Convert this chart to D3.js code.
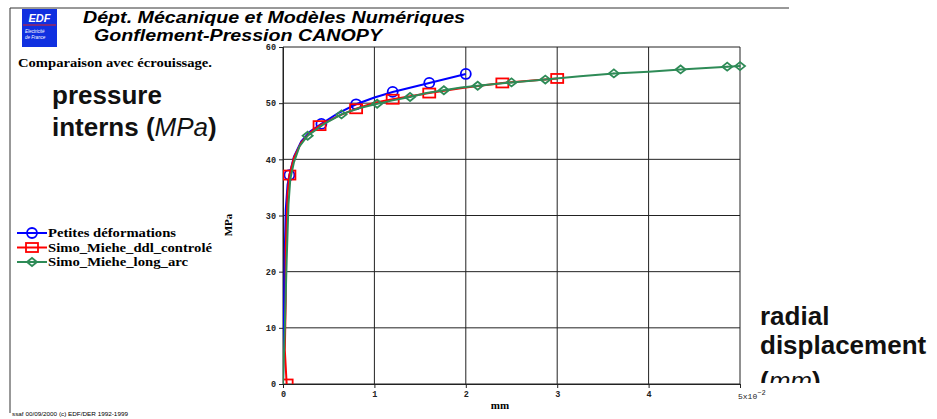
<!DOCTYPE html>
<html>
<head>
<meta charset="utf-8">
<script src="https://cdn.jsdelivr.net/npm/d3@7"></script>
<style>
  body { margin: 0; background: #fff; }
  svg { display: block; }
</style>
</head>
<body>
<div id="chart"></div>
<script>
// displacement (x 1e-2 mm) / pressure (MPa)
var blueX = [0, 0.01, 0.02, 0.03, 0.05, 0.07, 0.12, 0.2, 0.3, 0.42, 0.6, 0.8, 1.0, 1.2, 1.6, 2.0];
var blueY = [0, 12, 24, 31, 35.5, 37.2, 40.5, 43.2, 45, 46.3, 48.2, 49.8, 51, 52, 53.6, 55.2];
var blueMarks = [5, 9, 11, 13, 14, 15];

var redX = [0.04, 0.02, 0.03, 0.03, 0.04, 0.05, 0.07, 0.12, 0.2, 0.3, 0.4, 0.6, 0.8, 1.0, 1.2, 1.6, 2.0, 2.4, 3.0];
var redY = [0, 6, 15, 24, 29, 34, 37.2, 40.3, 43, 44.8, 46, 47.7, 49, 50.1, 50.7, 51.8, 52.8, 53.6, 54.4];
var redMarks = [0, 6, 10, 12, 14, 15, 17, 18];

var greenX = [0, 0.02, 0.04, 0.06, 0.08, 0.12, 0.18, 0.27, 0.45, 0.64, 0.83, 1.03, 1.2, 1.39, 1.57, 1.76, 1.95, 2.13, 2.5, 2.87, 3.25, 3.62, 4.0, 4.35, 4.86, 5.0];
var greenY = [0, 10, 22, 32, 36.5, 39.5, 42.3, 44.2, 46.3, 48.0, 49.1, 49.9, 50.5, 51.1, 51.8, 52.3, 52.8, 53.1, 53.7, 54.2, 54.8, 55.3, 55.6, 56.0, 56.5, 56.6];
var greenMarks = [7, 9, 11, 13, 15, 17, 18, 19, 21, 23, 24, 25];

var seriesNames = ["Petites déformations", "Simo_Miehe_ddl_controlé", "Simo_Miehe_long_arc"];
var seriesColors = ["#0000ff", "#ff0000", "#2e8b57"];
var seriesShapes = ["circle", "square", "diamond"];
var legendWidths = [128, 164, 140];

var xTicks = [0, 1, 2, 3, 4, 5];
var yTicks = [0, 10, 20, 30, 40, 50, 60];

var W = 937, H = 419;
var plot = {left: 283, right: 740, top: 47, bottom: 384};

var svg = d3.select("#chart").append("svg")
    .attr("width", W)
    .attr("height", H);

// page frame
svg.append("line").attr("x1", 10).attr("x2", 789).attr("y1", 8).attr("y2", 8)
    .attr("stroke", "#333").attr("stroke-width", 1);
svg.append("line").attr("x1", 10).attr("x2", 10).attr("y1", 8).attr("y2", 413)
    .attr("stroke", "#333").attr("stroke-width", 1);

// logo
var logo = svg.append("g");
logo.append("rect").attr("x", 22).attr("y", 9).attr("width", 35).attr("height", 38).attr("fill", "#1030e0");
logo.append("text").attr("x", 39.5).attr("y", 22).attr("text-anchor", "middle")
    .attr("font-family", "Liberation Sans").attr("font-weight", "bold").attr("font-style", "italic")
    .attr("font-size", 11).attr("fill", "#fff").text("EDF");
logo.append("line").attr("x1", 23).attr("x2", 56).attr("y1", 25).attr("y2", 25)
    .attr("stroke", "#e02020").attr("stroke-width", 1.2);
logo.append("text").attr("x", 25).attr("y", 33)
    .attr("font-family", "Liberation Sans").attr("font-style", "italic")
    .attr("font-size", 4.5).attr("fill", "#fff").text("Electricité");
logo.append("text").attr("x", 25).attr("y", 39)
    .attr("font-family", "Liberation Sans").attr("font-style", "italic")
    .attr("font-size", 4.5).attr("fill", "#fff").text("de France");

// titles
function stretched(x0, y0, txt, size, len, family, style) {
  return svg.append("text").attr("x", x0).attr("y", y0)
      .attr("font-family", family).attr("font-weight", "bold").attr("font-style", style || "normal")
      .attr("font-size", size).attr("textLength", len).attr("lengthAdjust", "spacingAndGlyphs")
      .text(txt);
}
stretched(83, 23, "Dépt. Mécanique et Modèles Numériques", 16, 382, "Liberation Sans", "italic");
stretched(94, 41, "Gonflement-Pression CANOPY", 16, 288, "Liberation Sans", "italic");
stretched(18, 67, "Comparaison avec écrouissage.", 11.5, 194, "Liberation Serif");

// scales
var x = d3.scaleLinear().domain([0, 5]).range([plot.left, plot.right]);
var y = d3.scaleLinear().domain([0, 60]).range([plot.bottom, plot.top]);

// grid
var grid = svg.append("g");
grid.selectAll(".hg").data(yTicks).enter().append("line")
    .attr("x1", plot.left).attr("x2", plot.right)
    .attr("y1", function(d) { return y(d); }).attr("y2", function(d) { return y(d); })
    .attr("stroke", "#222").attr("stroke-width", 1);
grid.selectAll(".vg").data(xTicks).enter().append("line")
    .attr("x1", function(d) { return x(d); }).attr("x2", function(d) { return x(d); })
    .attr("y1", plot.top).attr("y2", plot.bottom)
    .attr("stroke", "#222").attr("stroke-width", 1);

// axes
var yAxis = svg.append("g")
    .attr("transform", "translate(" + plot.left + ",0)")
    .call(d3.axisLeft(y).tickValues(yTicks).tickSize(4).tickPadding(3).tickFormat(d3.format("d")));
var xAxis = svg.append("g")
    .attr("transform", "translate(0," + plot.bottom + ")")
    .call(d3.axisBottom(x).tickValues(xTicks).tickSize(4).tickPadding(3)
        .tickFormat(function(d) { return d === 5 ? "" : d; }));
[yAxis, xAxis].forEach(function(a) {
  a.select(".domain").attr("stroke", "#222");
  a.selectAll(".tick line").attr("stroke", "#222");
  a.selectAll("text").attr("font-family", "Liberation Mono").attr("font-weight", "bold")
      .attr("font-size", 8.5).attr("fill", "#222");
});

// 5x10^-2 label
var exp = svg.append("text").attr("x", x(5) - 2).attr("y", plot.bottom + 15)
    .attr("font-family", "Liberation Mono").attr("font-size", 8).attr("fill", "#222");
exp.append("tspan").text("5x10");
exp.append("tspan").attr("dy", -4).attr("font-size", 7).text("\u22122");

svg.append("text").attr("x", 500).attr("y", 409).attr("text-anchor", "middle")
    .attr("font-family", "Liberation Serif").attr("font-weight", "bold")
    .attr("font-size", 11).text("mm");
svg.append("text").attr("transform", "translate(232,225) rotate(-90)").attr("text-anchor", "middle")
    .attr("font-family", "Liberation Serif").attr("font-weight", "bold")
    .attr("font-size", 11).text("MPa");

// curves
svg.append("clipPath").attr("id", "plotclip").append("rect")
    .attr("x", plot.left).attr("y", plot.top - 10)
    .attr("width", plot.right - plot.left + 10).attr("height", plot.bottom - plot.top + 10);

var series = [
  {xs: blueX, ys: blueY, marks: blueMarks},
  {xs: redX, ys: redY, marks: redMarks},
  {xs: greenX, ys: greenY, marks: greenMarks}
];

var line = d3.line()
    .x(function(d) { return x(d[0]); })
    .y(function(d) { return y(d[1]); });

function drawMarker(g, shape, color) {
  if (shape === "circle") {
    g.append("circle").attr("r", 5).attr("fill", "none").attr("stroke", color).attr("stroke-width", 1.8);
  } else if (shape === "square") {
    g.append("rect").attr("x", -6).attr("y", -4.5).attr("width", 12).attr("height", 9)
        .attr("fill", "none").attr("stroke", color).attr("stroke-width", 1.8);
  } else {
    g.append("path").attr("d", "M-5,0L0,-4L5,0L0,4Z")
        .attr("fill", "none").attr("stroke", color).attr("stroke-width", 1.8);
    g.append("circle").attr("r", 0.8).attr("fill", color);
  }
}

var curves = svg.append("g").attr("clip-path", "url(#plotclip)");
series.forEach(function(s, i) {
  var pts = s.xs.map(function(v, j) { return [v, s.ys[j]]; });
  curves.append("path").datum(pts)
      .attr("d", line)
      .attr("fill", "none")
      .attr("stroke", seriesColors[i])
      .attr("stroke-width", 2);
  curves.selectAll(".m" + i).data(s.marks).enter().append("g")
      .attr("class", "m" + i)
      .attr("transform", function(k) { return "translate(" + x(pts[k][0]) + "," + y(pts[k][1]) + ")"; })
      .each(function() { drawMarker(d3.select(this), seriesShapes[i], seriesColors[i]); });
});

// legend
var legend = svg.append("g").selectAll("g").data(seriesNames).enter().append("g")
    .attr("transform", function(d, i) { return "translate(17," + (233 + i * 14.5) + ")"; });
legend.append("line").attr("x1", 0).attr("x2", 30).attr("y1", 0).attr("y2", 0)
    .attr("stroke", function(d, i) { return seriesColors[i]; }).attr("stroke-width", 2);
legend.append("g").attr("transform", "translate(15,0)")
    .each(function(d, i) { drawMarker(d3.select(this), seriesShapes[i], seriesColors[i]); });
legend.append("text").attr("x", 31).attr("y", 4)
    .attr("font-family", "Liberation Serif").attr("font-weight", "bold")
    .attr("font-size", 11.5)
    .attr("textLength", function(d, i) { return legendWidths[i]; })
    .attr("lengthAdjust", "spacingAndGlyphs")
    .text(function(d) { return d; });

// big annotations
function bigText(x0, ys, lines) {
  var t = svg.append("text").attr("font-family", "Liberation Sans").attr("font-weight", "bold")
      .attr("font-size", 26).attr("fill", "#111");
  lines.forEach(function(parts, i) {
    parts.forEach(function(p, j) {
      var ts = t.append("tspan").text(p[0]);
      if (j === 0) ts.attr("x", x0).attr("y", ys[i]);
      if (p[1]) ts.attr("font-style", "italic").attr("font-weight", "normal");
    });
  });
  return t;
}
bigText(52, [104, 136], [[["pressure"]], [["interns ("], ["MPa", true], [")"]]]);

svg.append("clipPath").attr("id", "rclip").append("rect")
    .attr("x", 740).attr("y", 290).attr("width", 197).attr("height", 93);
bigText(760, [325, 354, 390], [[["radial"]], [["displacement"]], [["("], ["mm", true], [")"]]])
    .attr("clip-path", "url(#rclip)");

// footer
svg.append("text").attr("x", 12).attr("y", 416)
    .attr("font-family", "Liberation Sans").attr("font-size", 5)
    .attr("textLength", 116).attr("lengthAdjust", "spacingAndGlyphs")
    .text("ssaf 00/09/2000 (c) EDF/DER 1992-1999");
</script>
</body>
</html>
